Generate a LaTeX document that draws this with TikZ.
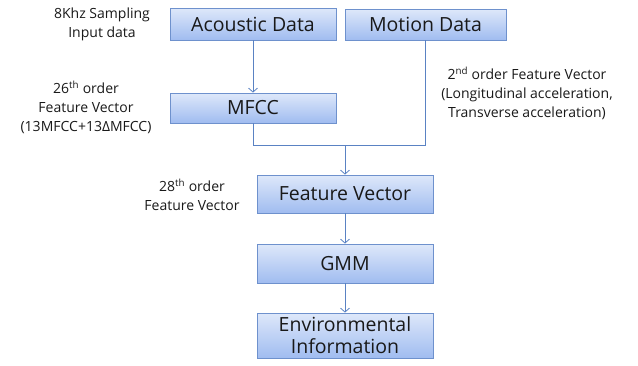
\documentclass[tikz,border=0pt]{standalone}
\usepackage{fontspec}
\setmainfont{Open Sans}
\usetikzlibrary{arrows.meta,shadows}
\definecolor{boxtop}{RGB}{222,232,250}
\definecolor{boxbot}{RGB}{160,188,240}
\definecolor{boxline}{RGB}{110,145,205}
\definecolor{flow}{RGB}{90,130,195}
\definecolor{txt}{RGB}{25,25,25}
\begin{document}
\begin{tikzpicture}[x=1pt,y=-1pt,
  blk/.style={draw=boxline, line width=0.8pt, top color=boxtop, bottom color=boxbot,
    drop shadow={shadow xshift=1pt, shadow yshift=-1.2pt, opacity=0.25},
    align=center, inner sep=1pt, text=txt, font=\fontsize{19.5}{22}\selectfont},
  note/.style={align=center, text=txt, font=\fontsize{14}{19}\selectfont},
  flowline/.style={draw=flow, line width=0.8pt},
  flowarrow/.style={flowline, -{Straight Barb[length=4pt,width=9pt]}}]
\useasboundingbox (0,0) rectangle (638,365);

% processing blocks
\node[blk, minimum width=166pt, minimum height=32pt] (ac) at (253,24) {Acoustic Data};
\node[blk, minimum width=161pt, minimum height=31pt] (mo) at (425.5,24.5) {Motion Data};
\node[blk, minimum width=166pt, minimum height=30pt] (mf) at (253,108) {MFCC};
\node[blk, minimum width=176pt, minimum height=38pt] (fv) at (345,194) {Feature Vector};
\node[blk, minimum width=176pt, minimum height=39pt] (gm) at (345,263.5) {GMM};
\node[blk, minimum width=176pt, minimum height=45pt, font=\fontsize{19.5}{22}\selectfont] (en) at (345,335.5) {Environmental\\Information};

% annotations
\node[note] (n1) at (102,24) {8Khz Sampling\\Input data};
\node[note] (n2) at (86,107) {26\textsuperscript{th} order\\Feature Vector\\(13MFCC+13ΔMFCC)};
\node[note] (n3) at (527,93) {2\textsuperscript{nd} order Feature Vector\\(Longitudinal acceleration,\\Transverse acceleration)};
\node[note] (n4) at (192,195) {28\textsuperscript{th} order\\Feature Vector};

% connectors
\coordinate (j) at (345,145);
\draw[flowarrow] (ac) -- (mf);
\draw[flowline] (mf.south) -- (mf.south |- j) -- (mo.south |- j) -- (mo.south);
\draw[flowarrow] (j) -- (fv.north);
\draw[flowarrow] (fv) -- (gm);
\draw[flowarrow] (gm) -- (en);
\end{tikzpicture}
\end{document}
